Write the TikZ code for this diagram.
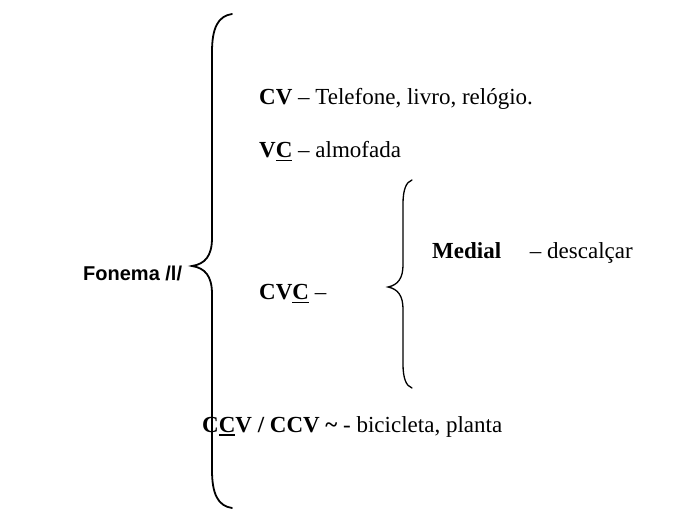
\documentclass[tikz,border=0pt]{standalone}
\usepackage{fontspec}
\setmainfont{Liberation Serif}
\newfontfamily\arialfont{Liberation Sans}
\newcommand\myul[1]{\setbox0\hbox{#1}\rlap{\rule[-3.5pt]{\wd0}{1.6pt}}\box0}
\begin{document}
\begin{tikzpicture}[x=1pt,y=-1pt,
  txt/.style={anchor=base west,inner sep=0pt,font=\fontsize{23}{27}\selectfont},
  bigbrace/.style={line width=1.8pt,line cap=round},
  smallbrace/.style={line width=1.3pt,line cap=round}]
\useasboundingbox (0,0) rectangle (677,518);
% big brace
\draw[bigbrace] (232,14) .. controls (218,16) and (212,28) .. (212,52)
  -- (212,238) .. controls (212,256) and (205,264) .. (192,266)
  .. controls (205,268) and (212,276) .. (212,294)
  -- (212,470) .. controls (212,494) and (218,506) .. (232,508);
% small brace
\draw[smallbrace] (412,180) .. controls (406,182) and (403,190) .. (403,204)
  -- (403,265) .. controls (403,278) and (398,285) .. (388,287)
  .. controls (398,289) and (403,296) .. (403,309)
  -- (403,364) .. controls (403,378) and (406,386) .. (412,388);
\node[txt,font=\arialfont\bfseries\fontsize{20}{24}\selectfont] (fon) at (83,281) {Fonema /l/};
\node[txt] (cv) at (259,105) {\textbf{CV} – Telefone, livro, relógio.};
\node[txt] (vc) at (259,158) {\textbf{V\myul{C}} – almofada};
\node[txt] (med) at (432,259) {\textbf{Medial}\hspace{1em} – descalçar};
\node[txt] (cvc) at (259,300) {\textbf{CV\myul{C}} –};
\node[txt] (ccv) at (202,432) {\textbf{C\myul{C}V / CCV \textasciitilde} - bicicleta, planta};
\end{tikzpicture}
\end{document}
